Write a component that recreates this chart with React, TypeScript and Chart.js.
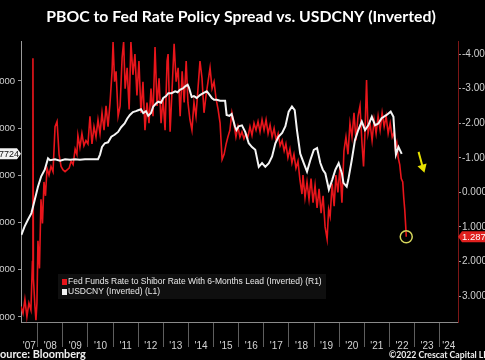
import { useEffect, useRef } from 'react';
import { Chart, registerables } from 'chart.js';

Chart.register(...registerables);

const TITLE = 'PBOC to Fed Rate Policy Spread vs. USDCNY (Inverted)';
const SOURCE = 'Source: Bloomberg';
const CREDIT = '©2022 Crescat Capital LLC';
const RED_LABEL = 'Fed Funds Rate to Shibor Rate With 6-Months Lead (Inverted) (R1)';
const WHITE_LABEL = 'USDCNY (Inverted) (L1)';

const years = [2007, 2008, 2009, 2010, 2011, 2012, 2013, 2014, 2015, 2016, 2017, 2018, 2019, 2020, 2021, 2022, 2023, 2024];
const yearLabels = ["'07", "'08", "'09", "'10", "'11", "'12", "'13", "'14", "'15", "'16", "'17", "'18", "'19", "'20", "'21", "'22", "'23", "'24"];
const leftTicks = [6.0, 6.5, 7.0, 7.5, 8.0, 8.5];
const rightTicks = [-4, -3, -2, -1, 0, 1, 2, 3];

const X_MIN = 2007.335;
const X_MAX = 2024.73;
const L_MIN = 5.587;
const L_MAX = 8.564;
const R_MIN = -4.35;
const R_MAX = 3.78;

// USDCNY (inverted, left axis)
const usdcnyDates = [
  2007.35, 2007.48, 2007.61, 2007.75, 2007.88, 2008.01, 2008.14, 2008.28, 2008.41, 2008.49,
  2008.69, 2008.89, 2009.09, 2009.29, 2009.49, 2009.68, 2009.88, 2010.08, 2010.28, 2010.40,
  2010.48, 2010.56, 2010.67, 2010.80, 2010.93, 2011.06, 2011.20, 2011.32, 2011.46, 2011.56,
  2011.67, 2011.79, 2011.91, 2012.00, 2012.11, 2012.20, 2012.31, 2012.40, 2012.51, 2012.60,
  2012.71, 2012.80, 2012.91, 2013.00, 2013.11, 2013.20, 2013.33, 2013.47, 2013.57, 2013.66,
  2013.78, 2013.86, 2013.97, 2014.02, 2014.13, 2014.22, 2014.33, 2014.46, 2014.59, 2014.73,
  2014.82, 2014.93, 2015.02, 2015.13, 2015.26, 2015.46, 2015.52, 2015.63, 2015.72, 2015.77,
  2015.85, 2015.91, 2016.00, 2016.13, 2016.26, 2016.40, 2016.53, 2016.66, 2016.80, 2016.93,
  2017.06, 2017.20, 2017.33, 2017.46, 2017.59, 2017.73, 2017.86, 2017.99, 2018.12, 2018.23,
  2018.32, 2018.45, 2018.59, 2018.72, 2018.85, 2018.99, 2019.12, 2019.25, 2019.35, 2019.45,
  2019.59, 2019.72, 2019.85, 2019.98, 2020.11, 2020.17, 2020.30, 2020.36, 2020.50, 2020.63,
  2020.76, 2020.90, 2021.03, 2021.16, 2021.30, 2021.43, 2021.56, 2021.69, 2021.89, 2022.05,
  2022.16, 2022.22, 2022.26, 2022.36, 2022.49,
];
const usdcnyValues = [
  7.63, 7.54, 7.47, 7.40, 7.26, 7.12, 7.01, 6.94, 6.82, 6.84,
  6.83, 6.845, 6.83, 6.835, 6.83, 6.835, 6.83, 6.83, 6.83, 6.83,
  6.78, 6.70, 6.66, 6.65, 6.59, 6.57, 6.54, 6.49, 6.45, 6.40,
  6.36, 6.33, 6.32, 6.31, 6.30, 6.34, 6.32, 6.37, 6.34, 6.27,
  6.24, 6.22, 6.23, 6.18, 6.16, 6.13, 6.13, 6.11, 6.12, 6.095,
  6.08, 6.06, 6.04, 6.07, 6.17, 6.16, 6.18, 6.15, 6.13, 6.11,
  6.14, 6.18, 6.20, 6.20, 6.21, 6.21, 6.36, 6.37, 6.35, 6.40,
  6.48, 6.52, 6.48, 6.47, 6.54, 6.66, 6.70, 6.73, 6.91, 6.87,
  6.91, 6.87, 6.80, 6.66, 6.59, 6.55, 6.48, 6.325, 6.27, 6.31,
  6.52, 6.77, 6.87, 6.96, 6.84, 6.73, 6.71, 6.87, 6.94, 6.98,
  7.15, 7.05, 6.94, 6.87, 6.98, 7.08, 7.12, 7.05, 6.84, 6.625,
  6.52, 6.43, 6.52, 6.47, 6.38, 6.47, 6.45, 6.395, 6.36, 6.325,
  6.38, 6.625, 6.78, 6.70, 6.7724,
];

// Fed Funds minus 6M Shibor, 6-month lead (inverted, right axis)
const spreadDates = [
  2007.335, 2007.415, 2007.49, 2007.57, 2007.65, 2007.73, 2007.79, 2007.81, 2007.83, 2007.89,
  2007.93, 2007.97, 2008.01, 2008.07, 2008.13, 2008.19, 2008.25, 2008.31, 2008.37, 2008.45,
  2008.53, 2008.61, 2008.69, 2008.77, 2008.85, 2008.93, 2009.01, 2009.09, 2009.17, 2009.25,
  2009.33, 2009.41, 2009.49, 2009.56, 2009.60, 2009.68, 2009.76, 2009.84, 2009.92, 2010.00,
  2010.08, 2010.16, 2010.24, 2010.32, 2010.40, 2010.48, 2010.56, 2010.64, 2010.72, 2010.80,
  2010.88, 2010.96, 2011.00, 2011.06, 2011.12, 2011.20, 2011.28, 2011.36, 2011.42, 2011.48,
  2011.56, 2011.64, 2011.71, 2011.79, 2011.87, 2011.95, 2012.03, 2012.11, 2012.19, 2012.27,
  2012.35, 2012.43, 2012.51, 2012.59, 2012.67, 2012.75, 2012.83, 2012.91, 2012.99, 2013.07,
  2013.15, 2013.19, 2013.27, 2013.35, 2013.43, 2013.51, 2013.59, 2013.67, 2013.75, 2013.83,
  2013.91, 2013.98, 2014.06, 2014.14, 2014.22, 2014.30, 2014.38, 2014.46, 2014.54, 2014.62,
  2014.70, 2014.78, 2014.86, 2014.94, 2015.02, 2015.10, 2015.18, 2015.26, 2015.34, 2015.42,
  2015.50, 2015.57, 2015.65, 2015.73, 2015.81, 2015.89, 2015.97, 2016.05, 2016.13, 2016.21,
  2016.29, 2016.37, 2016.45, 2016.53, 2016.61, 2016.69, 2016.77, 2016.85, 2016.93, 2017.01,
  2017.09, 2017.17, 2017.25, 2017.33, 2017.41, 2017.49, 2017.57, 2017.65, 2017.73, 2017.81,
  2017.88, 2017.96, 2018.04, 2018.12, 2018.20, 2018.28, 2018.36, 2018.44, 2018.52, 2018.56,
  2018.64, 2018.72, 2018.80, 2018.88, 2018.96, 2019.04, 2019.12, 2019.20, 2019.28, 2019.36,
  2019.44, 2019.52, 2019.58, 2019.64, 2019.72, 2019.80, 2019.87, 2019.95, 2020.03, 2020.11,
  2020.19, 2020.27, 2020.35, 2020.43, 2020.51, 2020.59, 2020.67, 2020.75, 2020.83, 2020.91,
  2020.97, 2021.03, 2021.09, 2021.15, 2021.23, 2021.31, 2021.39, 2021.47, 2021.55, 2021.63,
  2021.71, 2021.79, 2021.87, 2021.95, 2022.03, 2022.11, 2022.19, 2022.23, 2022.29, 2022.35,
  2022.41, 2022.47, 2022.53, 2022.57, 2022.61, 2022.65, 2022.67,
];
const spreadValues = [
  3.3, 3.5, 3.1, 3.6, 3.2, 3.4, 2.0, -3.88, 2.5, 3.3,
  3.7, 3.2, 1.4, 2.2, 0.2, 0.9, -0.3, 0.1, -0.7, -0.5,
  -0.75, -0.6, -1.9, -2.05, -1.1, -0.75, -0.65, -0.6, -0.65, -0.7,
  -0.9, -0.8, -1.25, -1.1, -1.65, -1.3, -1.7, -1.35, -1.5, -1.4,
  -2.2, -1.4, -1.9, -1.6, -2.1, -1.7, -2.3, -1.8, -2.5, -1.9,
  -2.6, -3.5, -4.35, -3.2, -3.5, -2.2, -2.5, -3.9, -4.35, -3.0,
  -3.6, -2.4, -4.35, -3.4, -4.0, -2.8, -3.8, -2.3, -3.2, -1.8,
  -2.6, -2.0, -3.0, -2.2, -4.2, -2.5, -3.3, -2.0, -2.7, -1.8,
  -3.8, -4.0, -1.75, -3.0, -4.3, -3.2, -3.6, -2.2, -3.5, -2.6,
  -3.8, -2.6, -2.1, -1.8, -2.6, -2.2, -3.0, -3.8, -3.3, -2.3,
  -2.8, -3.2, -3.6, -3.0, -3.2, -2.7, -2.4, -2.0, -0.95, -1.1,
  -1.4, -1.6, -1.8, -2.3, -2.0, -1.6, -1.9, -1.6, -1.75, -1.55,
  -1.7, -1.6, -1.9, -1.65, -2.0, -1.8, -2.05, -1.75, -2.1, -1.8,
  -2.1, -1.7, -1.95, -1.6, -1.85, -1.5, -1.7, -1.35, -1.5, -1.2,
  -1.4, -1.0, -1.25, -0.85, -1.1, -0.7, -0.9, -0.35, 0.05, -0.5,
  0.15, -0.3, 0.2, -0.4, 0.3, -0.2, 0.45, -0.1, 0.6, 0.1,
  1.0, 1.35, 0.5, 0.7, -0.25, 0.4, -0.5, 0.0, -0.7, 0.3,
  -1.2, -1.6, -1.1, -2.0, -1.6, -2.3, -1.5, -2.2, -2.5, -1.4,
  -0.75, -1.8, -3.25, -1.7, -2.0, -1.5, -2.1, -1.7, -2.2, -1.8,
  -2.3, -1.9, -2.2, -1.7, -2.0, -1.6, -1.75, -1.3, -1.45, -1.0,
  -0.8, -0.4, -0.3, 0.15, 0.5, 1.0, 1.287,
];

// Yellow annotation arrow (right-axis units)
const arrowDates = [2023.16, 2023.33];
const arrowValues = [-1.17, -0.72];

const NARROW_FONT = "'Liberation Sans Narrow', 'Arial Narrow', 'Liberation Sans', Arial, sans-serif";
const AXIS_FONT = "'Liberation Sans', Arial, sans-serif";
const BOLD_FONT = "Lato, 'Open Sans', Arial, sans-serif";

const CANVAS_W = 550;
const CANVAS_H = 360;
const OFFSET_X = -34;

const xLabelTicks = years.map((y, i) => ({
  value: (Math.max(y, X_MIN) + Math.min(y + 1, X_MAX)) / 2,
  label: yearLabels[i],
}));
const xDividers = years.filter((y) => y > X_MIN && y < X_MAX);

const overlayPlugin = {
  id: 'overlay',
  beforeDatasetsDraw(chart: any) {
    const ctx = chart.ctx;
    const ca = chart.chartArea;
    ctx.save();
    ctx.fillStyle = '#0f0f0f';
    ctx.fillRect(ca.left + 37, 274, 268, 25);
    ctx.restore();
  },
  afterDatasetsDraw(chart: any) {
    const ctx = chart.ctx;
    const ca = chart.chartArea;
    ctx.save();
    ctx.font = `8.5px ${NARROW_FONT}`;
    ctx.textBaseline = 'middle';
    ctx.textAlign = 'left';
    const rows = [
      { color: '#e8151b', text: RED_LABEL, y: 282 },
      { color: '#f4f4f4', text: WHITE_LABEL, y: 292 },
    ];
    rows.forEach((r) => {
      ctx.fillStyle = r.color;
      ctx.fillRect(ca.left + 41, r.y - 3, 5, 6);
      ctx.fillStyle = '#e8e8e8';
      ctx.fillText(r.text, ca.left + 47, r.y);
    });
    ctx.restore();
  },
  afterDraw(chart: any) {
    const ctx = chart.ctx;
    const ca = chart.chartArea;
    const yL = chart.scales.yL;
    const yR = chart.scales.yR;
    ctx.save();
    // left last-value tag
    const lastW = usdcnyValues[usdcnyValues.length - 1];
    const wy = yL.getPixelForValue(lastW);
    ctx.fillStyle = '#f2f2f2';
    ctx.beginPath();
    ctx.moveTo(ca.left - 38, wy - 5.5);
    ctx.lineTo(ca.left - 4, wy - 5.5);
    ctx.lineTo(ca.left, wy);
    ctx.lineTo(ca.left - 4, wy + 5.5);
    ctx.lineTo(ca.left - 38, wy + 5.5);
    ctx.closePath();
    ctx.fill();
    ctx.fillStyle = '#111';
    ctx.font = `9px ${AXIS_FONT}`;
    ctx.textAlign = 'right';
    ctx.textBaseline = 'middle';
    ctx.fillText(lastW.toFixed(4), ca.left - 2, wy + 0.5);
    // right last-value tag
    const lastR = spreadValues[spreadValues.length - 1];
    const ry = yR.getPixelForValue(lastR);
    ctx.fillStyle = '#e0201e';
    ctx.beginPath();
    ctx.moveTo(ca.right, ry);
    ctx.lineTo(ca.right + 4, ry - 5.5);
    ctx.lineTo(ca.right + 40, ry - 5.5);
    ctx.lineTo(ca.right + 40, ry + 5.5);
    ctx.lineTo(ca.right + 4, ry + 5.5);
    ctx.closePath();
    ctx.fill();
    ctx.fillStyle = '#ffffff';
    ctx.textAlign = 'left';
    ctx.font = `9.5px ${AXIS_FONT}`;
    ctx.fillText(lastR.toFixed(3), ca.right + 4, ry + 0.5);
    // footer
    ctx.fillStyle = '#f0f0f0';
    ctx.textBaseline = 'alphabetic';
    ctx.textAlign = 'left';
    ctx.font = `bold 10.9px ${BOLD_FONT}`;
    const sW = ctx.measureText('S').width;
    ctx.fillText(SOURCE, -OFFSET_X - sW, 358);
    ctx.font = `bold 8.7px ${BOLD_FONT}`;
    ctx.fillText(CREDIT, -OFFSET_X + 389, 358);
    ctx.restore();
  },
};

export default function App() {
  const canvasRef = useRef<HTMLCanvasElement | null>(null);

  useEffect(() => {
    if (!canvasRef.current) return;
    const chart = new Chart(canvasRef.current, {
      type: 'line',
      data: {
        datasets: [
          {
            label: WHITE_LABEL,
            data: usdcnyDates.map((x, i) => ({ x, y: usdcnyValues[i] })),
            yAxisID: 'yL',
            borderColor: '#f4f4f4',
            borderWidth: 2,
            pointRadius: 0,
            tension: 0,
            order: 1,
          },
          {
            label: RED_LABEL,
            data: spreadDates.map((x, i) => ({ x, y: spreadValues[i] })),
            yAxisID: 'yR',
            borderColor: '#e8151b',
            borderWidth: 1.6,
            pointRadius: 0,
            tension: 0,
            order: 2,
          },
          {
            label: 'marker',
            data: [{ x: spreadDates[spreadDates.length - 1], y: spreadValues[spreadValues.length - 1] }],
            yAxisID: 'yR',
            showLine: false,
            pointRadius: 6,
            pointBorderWidth: 1.5,
            pointBorderColor: '#d6d65c',
            pointBackgroundColor: 'rgba(0,0,0,0)',
            order: 0,
          },
          {
            label: 'arrow',
            data: arrowDates.map((x, i) => ({ x, y: arrowValues[i] })),
            yAxisID: 'yR',
            borderColor: '#e6e000',
            borderWidth: 2,
            pointRadius: [0, 3.5],
            pointStyle: 'triangle',
            rotation: 163,
            pointBackgroundColor: '#e6e000',
            pointBorderColor: '#e6e000',
            order: 0,
          },
        ] as any,
      },
      options: {
        responsive: false,
        animation: false,
        events: [],
        layout: { padding: 0 },
        plugins: {
          legend: { display: false },
          tooltip: { enabled: false },
          title: {
            display: true,
            text: TITLE,
            color: '#ffffff',
            font: { family: BOLD_FONT, weight: 'bold', size: 15.8 },
            padding: { top: 7, bottom: 16.0 },
          },
        },
        scales: {
          x: {
            type: 'linear',
            min: X_MIN,
            max: X_MAX,
            afterBuildTicks: (s: any) => {
              s.ticks = [
                ...xDividers.map((v) => ({ value: v })),
                ...xLabelTicks.map((t) => ({ value: t.value })),
              ].sort((a, b) => a.value - b.value);
            },
            afterFit: (s: any) => {
              s.height = 37;
            },
            ticks: {
              autoSkip: false,
              maxRotation: 0,
              minRotation: 0,
              padding: -7,
              color: '#d4d4d4',
              font: { family: NARROW_FONT, size: 10 },
              callback: (v: any) => {
                const t = xLabelTicks.find((tt) => Math.abs(tt.value - Number(v)) < 1e-6);
                return t ? t.label : '';
              },
            },
            grid: {
              drawOnChartArea: false,
              drawTicks: true,
              tickLength: 24,
              color: (c: any) =>
                c.tick && xDividers.some((d) => Math.abs(d - c.tick.value) < 1e-6) ? '#5e5e5e' : 'rgba(0,0,0,0)',
            },
            border: { display: true, color: '#8a8a8a', width: 1 },
          },
          yL: {
            type: 'linear',
            position: 'left',
            reverse: true,
            min: L_MIN,
            max: L_MAX,
            afterBuildTicks: (s: any) => {
              s.ticks = leftTicks.map((v) => ({ value: v }));
            },
            afterFit: (s: any) => {
              s.width = 55;
            },
            ticks: {
              color: '#cfcfcf',
              padding: 3,
              font: { family: AXIS_FONT, size: 9.5 },
              callback: (v: any) => Number(v).toFixed(4),
            },
            grid: { drawOnChartArea: false, drawTicks: true, tickLength: 3, color: '#9a9a9a' },
            border: { display: true, color: '#9a9a9a', width: 1 },
          },
          yR: {
            type: 'linear',
            position: 'right',
            reverse: true,
            min: R_MIN,
            max: R_MAX,
            afterBuildTicks: (s: any) => {
              s.ticks = rightTicks.map((v) => ({ value: v }));
            },
            afterFit: (s: any) => {
              s.width = CANVAS_W - 492;
            },
            ticks: {
              color: '#cfcfcf',
              padding: 1,
              font: { family: AXIS_FONT, size: 10 },
              callback: (v: any) => Number(v).toFixed(3),
            },
            grid: { drawOnChartArea: false, drawTicks: true, tickLength: 3, color: '#9a9a9a' },
            border: { display: true, color: '#7d1616', width: 1 },
          },
        },
      } as any,
      plugins: [overlayPlugin],
    });
    return () => chart.destroy();
  }, []);

  return (
    <div
      style={{
        position: 'fixed',
        left: 0,
        top: 0,
        width: '485px',
        height: '360px',
        overflow: 'hidden',
        background: '#000',
      }}
    >
      <canvas
        ref={canvasRef}
        width={CANVAS_W}
        height={CANVAS_H}
        style={{ position: 'absolute', left: `${OFFSET_X}px`, top: 0, width: `${CANVAS_W}px`, height: `${CANVAS_H}px` }}
      />
    </div>
  );
}
